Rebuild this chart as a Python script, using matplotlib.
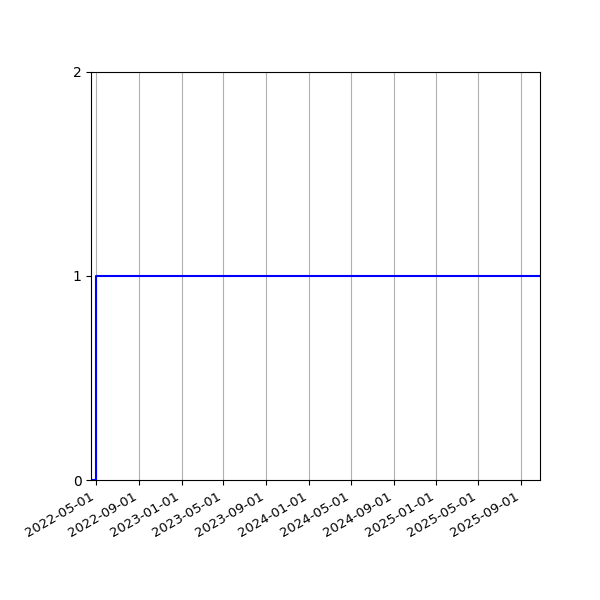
import matplotlib
matplotlib.use("Agg")
import matplotlib.pyplot as plt
import matplotlib.dates as mdates
import numpy as np

# step data: status switches on at the start of May 2022
dates = np.array(["2022-04-17", "2022-04-30", "2025-10-25"], dtype="datetime64[D]")
values = [0, 1, 1]

fig = plt.figure(figsize=(6, 6), dpi=100)
ax = fig.add_axes([0.152, 0.2, 0.748, 0.68])
ax.step(dates, values, where="post", color="blue", linewidth=1.5)

ax.set_xlim(dates[0], dates[-1])
ax.set_ylim(0, 2)
ax.set_yticks([0, 1, 2])
ax.xaxis.set_major_locator(mdates.MonthLocator(bymonth=[1, 5, 9]))
ax.xaxis.set_major_formatter(mdates.DateFormatter("%Y-%m-%d"))
ax.grid(axis="x")
for lbl in ax.get_xticklabels():
    lbl.set_rotation(30)
    lbl.set_ha("right")
    lbl.set_fontsize(9.5)

fig.savefig("out.png")
